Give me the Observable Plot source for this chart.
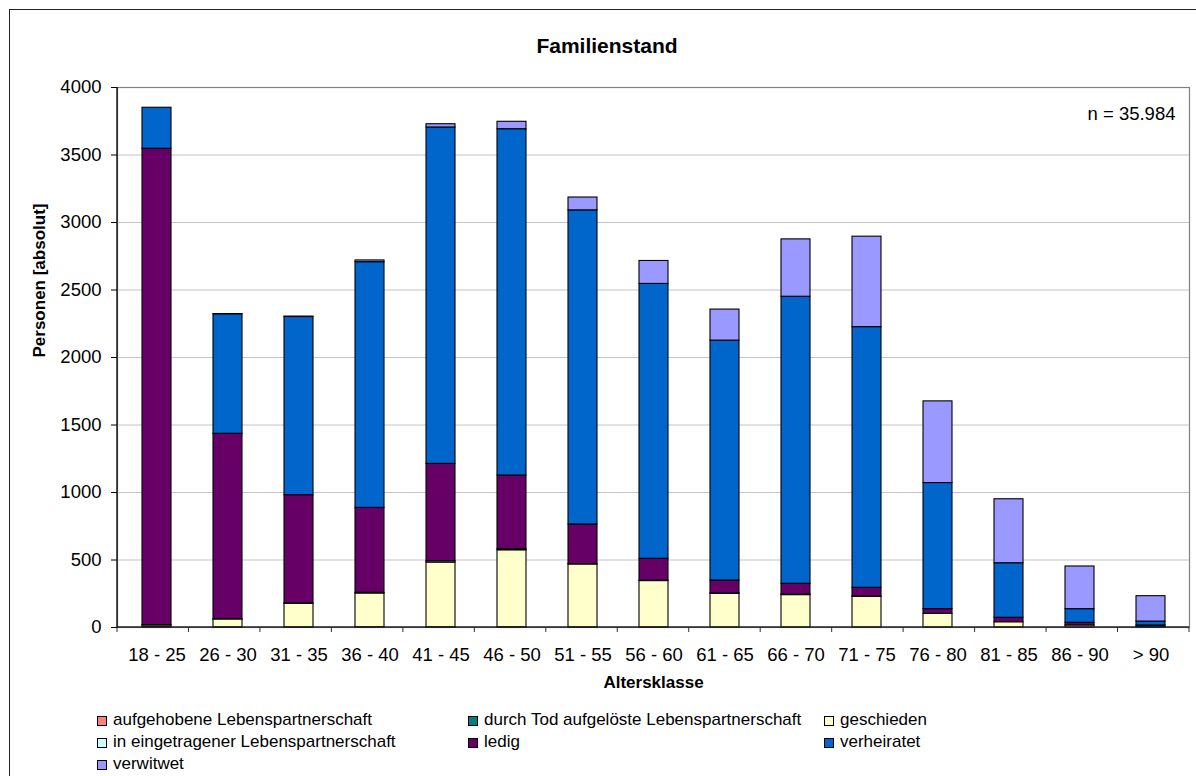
<!DOCTYPE html>
<html>
<head>
<meta charset="utf-8">
<script src="https://cdn.jsdelivr.net/npm/d3@7"></script>
<script src="https://cdn.jsdelivr.net/npm/@observablehq/plot@0.6"></script>
<style>
  html, body { margin: 0; padding: 0; background: #fff; }
  #wrap { position: relative; width: 1196px; height: 776px; overflow: hidden; font-family: "Liberation Sans", Arial, sans-serif; background: #fff; }
  #chart { position: absolute; left: 0; top: 0; }
  #frame { position: absolute; left: 9px; top: 9px; width: 1400px; height: 1000px; border: 1.5px solid #222; box-sizing: border-box; pointer-events: none; z-index: 3; }
  #title { position: absolute; left: 0; width: 1214px; top: 35px; text-align: center; font-size: 21px; line-height: 21px; font-weight: bold; color: #000; z-index: 2; }
  .lg { position: absolute; font-size: 17px; line-height: 17px; color: #000; white-space: nowrap; z-index: 2; }
  .sw { position: absolute; width: 10px; height: 10px; border: 1px solid #000; box-sizing: border-box; z-index: 2; }
</style>
</head>
<body>
<div id="wrap">
  <div id="chart"></div>
  <div id="title"></div>
  <div id="legend"></div>
  <div id="frame"></div>
</div>
<script>
// ---- data ----
const title = "Familienstand";
const xLabel = "Altersklasse";
const yLabel = "Personen [absolut]";
const nLabel = "n = 35.984";
const categories = ["18 - 25", "26 - 30", "31 - 35", "36 - 40", "41 - 45", "46 - 50", "51 - 55", "56 - 60", "61 - 65", "66 - 70", "71 - 75", "76 - 80", "81 - 85", "86 - 90", "> 90"];
const seriesNames = ["aufgehobene Lebenspartnerschaft", "durch Tod aufgelöste Lebenspartnerschaft", "geschieden", "in eingetragener Lebenspartnerschaft", "ledig", "verheiratet", "verwitwet"];
const seriesColors = ["#FF8080", "#008080", "#FFFFCC", "#CCFFFF", "#660066", "#0066CC", "#9999FF"];
const aufgehoben   = [0, 1, 1, 2, 2, 2, 1, 1, 0, 0, 0, 0, 0, 0, 0];
const durchTod     = [0, 0, 0, 0, 0, 0, 0, 0, 0, 0, 0, 0, 0, 0, 0];
const geschieden   = [8, 59, 175, 250, 479, 570, 466, 343, 250, 240, 228, 101, 39, 15, 5];
const eingetragen  = [10, 2, 3, 5, 10, 8, 3, 3, 2, 4, 2, 0, 0, 0, 0];
const ledig        = [3528, 1373, 801, 629, 721, 546, 293, 162, 96, 80, 64, 35, 33, 20, 10];
const verheiratet  = [304, 885, 1320, 1820, 2492, 2565, 2327, 2036, 1777, 2126, 1931, 934, 404, 101, 29];
const verwitwet    = [0, 2, 3, 13, 24, 55, 95, 170, 230, 425, 670, 605, 474, 316, 188];
const yTicks = [0, 500, 1000, 1500, 2000, 2500, 3000, 3500, 4000];

const seriesValues = [aufgehoben, durchTod, geschieden, eingetragen, ledig, verheiratet, verwitwet];
const data = categories.flatMap((c, i) =>
  seriesNames.map((s, j) => ({Altersklasse: c, Familienstand: s, Personen: seriesValues[j][i]}))
).filter(d => d.Personen > 0);

// axis lines + category boundary ticks
function axisLines(index, scales, values, dims) {
  const g = d3.create("svg:g");
  const x0 = dims.marginLeft, x1 = dims.width - dims.marginRight;
  const y0 = dims.height - dims.marginBottom, yT = dims.marginTop;
  const n = categories.length;
  const step = (x1 - x0) / n;
  for (let i = 0; i <= n; i++) {
    const x = x0 + i * step;
    g.append("line").attr("x1", x).attr("x2", x).attr("y1", y0).attr("y2", y0 + 5)
      .attr("stroke", "#333").attr("stroke-width", 1);
  }
  g.append("line").attr("x1", x0).attr("x2", x1).attr("y1", y0).attr("y2", y0).attr("stroke", "#222").attr("stroke-width", 1.3);
  g.append("line").attr("x1", x0).attr("x2", x0).attr("y1", yT).attr("y2", y0).attr("stroke", "#000").attr("stroke-width", 1.3);
  return g.node();
}

const chart = Plot.plot({
  width: 1196,
  height: 700,
  marginLeft: 117,
  marginRight: 7,
  marginTop: 87,
  marginBottom: 73,
  style: {fontFamily: "'Liberation Sans', Arial, sans-serif", fontSize: "18.5px", background: "transparent", color: "#000"},
  x: {domain: categories, paddingInner: 0.595, paddingOuter: 0.2975, align: 0.5, label: null},
  y: {domain: [0, 4000], nice: false, label: null},
  color: {domain: seriesNames, range: seriesColors},
  marks: [
    Plot.frame({stroke: "#808080", strokeWidth: 1.2}),
    Plot.ruleY(yTicks.filter(v => v > 0 && v < 4000), {stroke: "#c4c4c4", strokeWidth: 1.2}),
    Plot.barY(data, {x: "Altersklasse", y: "Personen", fill: "Familienstand", stroke: "#000", strokeWidth: 1.1}),
    axisLines,
    Plot.axisY({ticks: yTicks, tickFormat: d => String(d), tickSize: 6, tickPadding: 10, fontSize: 18.5, label: null, stroke: "#000"}),
    Plot.axisX({tickSize: 0, tickPadding: 20, fontSize: 18.5, label: null}),
    Plot.text([nLabel], {frameAnchor: "top-right", dx: -14, dy: 19, fontSize: 18.5, fill: "#000"}),
    Plot.text([xLabel], {frameAnchor: "bottom", dy: 60.6, fontSize: 17, fontWeight: "bold", fill: "#000"}),
    Plot.text([yLabel], {frameAnchor: "left", rotate: -90, dx: -78, fontSize: 17, fontWeight: "bold", fill: "#000"})
  ]
});
document.getElementById("chart").appendChild(chart);
document.getElementById("title").textContent = title;

// legend
const legendCols = [97, 468, 824];
const legendRows = [725, 747, 769];
const legend = document.getElementById("legend");
seriesNames.forEach((s, k) => {
  const col = k % 3, row = Math.floor(k / 3);
  const x = legendCols[col], base = legendRows[row];
  const sw = document.createElement("div");
  sw.className = "sw";
  sw.style.left = x + "px";
  sw.style.top = (base - 9.5) + "px";
  sw.style.background = seriesColors[k];
  legend.appendChild(sw);
  const t = document.createElement("div");
  t.className = "lg";
  t.style.left = (x + 16) + "px";
  t.style.top = (base - 14.4) + "px";
  t.textContent = s;
  legend.appendChild(t);
});
</script>
</body>
</html>
